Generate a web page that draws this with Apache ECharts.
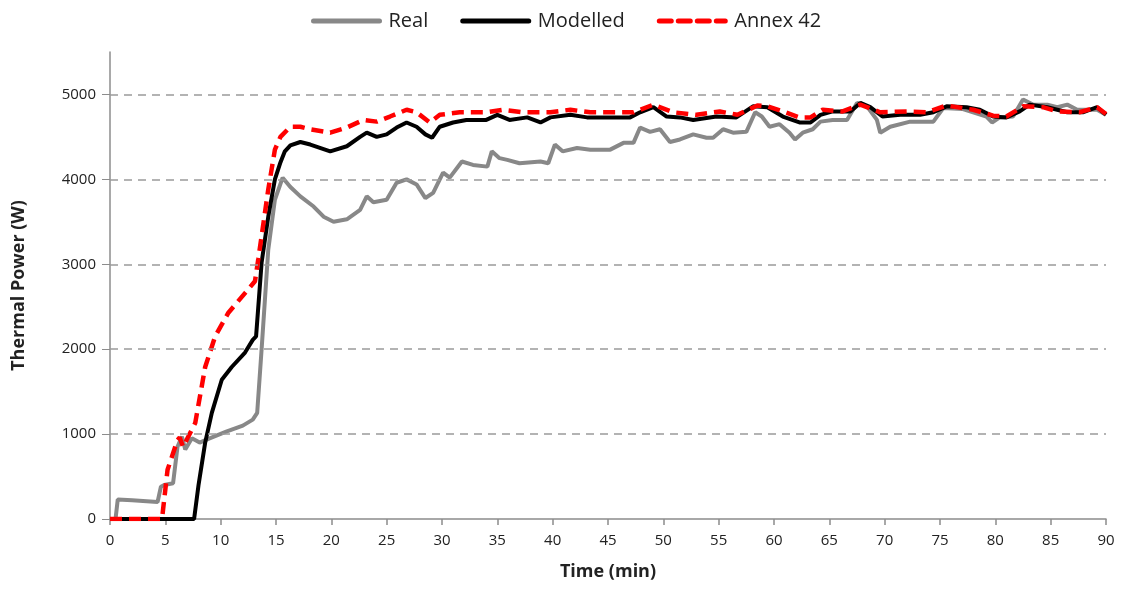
<!DOCTYPE html>
<html>
<head>
<meta charset="utf-8">
<script src="https://cdn.jsdelivr.net/npm/echarts@6/dist/echarts.min.js"></script>
<style>
html,body{margin:0;padding:0;background:#fff;}
#chart{width:1128px;height:599px;}
</style>
</head>
<body>
<div id="chart"></div>
<script>
const seriesNames = ['Real', 'Modelled', 'Annex 42'];
const xTicks = [0, 5, 10, 15, 20, 25, 30, 35, 40, 45, 50, 55, 60, 65, 70, 75, 80, 85, 90];
const yTicks = [0, 1000, 2000, 3000, 4000, 5000];
const gridValues = [1000, 2000, 3000, 4000, 5000];

const realTime = [0, 0.5, 0.7, 2, 4.3, 4.6, 4.9, 5.7, 6.1, 6.5,
  6.8, 7.4, 8.1, 9.0, 10.5, 12.0, 12.9, 13.3, 13.7, 14.3,
  14.9, 15.6, 16.3, 17.2, 18.4, 19.3, 20.2, 21.4, 22.6, 23.2,
  23.8, 25.0, 25.9, 26.8, 27.7, 28.5, 29.2, 30.1, 30.7, 31.8,
  32.8, 34.1, 34.5, 35.2, 35.9, 37, 38.9, 39.6, 40.2, 40.9,
  42.2, 43.4, 45.2, 46.4, 47.3, 47.9, 48.8, 49.7, 50.6, 51.5,
  52.7, 53.9, 54.5, 55.4, 56.3, 57.5, 58.3, 58.9, 59.6, 60.5,
  61.4, 61.9, 62.6, 63.5, 64.2, 65.3, 66.6, 67.5, 68.4, 69.3,
  69.6, 70.5, 72.3, 74.4, 75.3, 77, 79.2, 79.7, 80.4, 81.6,
  82.5, 83.4, 84.7, 85.6, 86.5, 87.4, 89.2, 90];
const realPower = [0, 0, 230, 220, 200, 380, 400, 420, 850, 970,
  820, 950, 900, 950, 1030, 1100, 1170, 1250, 2000, 3170,
  3760, 4020, 3910, 3800, 3680, 3560, 3500, 3530, 3640, 3800,
  3730, 3760, 3960, 4000, 3940, 3780, 3840, 4080, 4020, 4210,
  4170, 4150, 4330, 4250, 4230, 4190, 4210, 4190, 4410, 4330,
  4370, 4350, 4350, 4430, 4430, 4610, 4560, 4590, 4440, 4470,
  4530, 4490, 4490, 4590, 4550, 4560, 4790, 4740, 4620, 4650,
  4550, 4470, 4550, 4590, 4680, 4700, 4700, 4900, 4860, 4700,
  4550, 4620, 4680, 4680, 4840, 4830, 4740, 4670, 4730, 4740,
  4940, 4880, 4880, 4850, 4880, 4820, 4820, 4760];

const modTime = [0, 7.6, 8.0, 8.6, 9.2, 10.1, 11.0, 12.2, 12.9, 13.2,
  13.7, 14.3, 14.9, 15.4, 15.8, 16.3, 17.2, 18.1, 19.9, 21.4,
  22.6, 23.2, 24.1, 25.0, 25.9, 26.8, 27.7, 28.5, 29.1, 29.8,
  31.0, 32.2, 34.0, 35.0, 36.1, 37.7, 38.9, 39.8, 41.6, 43.1,
  45.8, 47.0, 47.9, 49.1, 50.3, 51.5, 52.7, 54.8, 56.6, 58.1,
  59.4, 60.8, 62.3, 63.3, 64.2, 65.3, 66.9, 67.8, 68.7, 69.8,
  71.4, 73.2, 74.4, 75.6, 77.4, 78.6, 79.8, 81.0, 82.2, 83.1,
  84.7, 86.5, 87.9, 89.2, 90];
const modPower = [0, 0, 400, 900, 1250, 1640, 1790, 1960, 2110, 2150,
  3020, 3560, 4000, 4200, 4330, 4400, 4440, 4410, 4330, 4390,
  4500, 4550, 4500, 4530, 4610, 4670, 4620, 4530, 4490, 4620,
  4670, 4700, 4700, 4760, 4700, 4730, 4670, 4730, 4760, 4730,
  4730, 4730, 4790, 4850, 4740, 4730, 4700, 4740, 4730, 4860,
  4850, 4740, 4670, 4670, 4760, 4800, 4800, 4900, 4850, 4740,
  4760, 4760, 4790, 4860, 4850, 4820, 4740, 4730, 4800, 4880,
  4850, 4790, 4790, 4850, 4760];

const annexTime = [0, 4.7, 5.2, 6.1, 6.3, 6.6, 7.7, 8.6, 9.5, 10.7,
  12.2, 13.1, 13.4, 14.3, 14.9, 15.4, 16.3, 17.2, 18.1, 19.9,
  21.4, 22.9, 24.1, 25.3, 26.8, 27.7, 28.9, 29.8, 31.6, 34.0,
  35.5, 37.3, 39.8, 41.6, 43.4, 47.3, 49.1, 50.9, 53.0, 55.1,
  56.7, 58.5, 59.4, 60.8, 62.3, 63.3, 64.4, 66.2, 67.8, 69.6,
  72.0, 73.8, 75.6, 78.0, 79.8, 81.0, 82.5, 84.3, 85.6, 87.6,
  89.2, 90];
const annexPower = [0, 0, 580, 930, 960, 850, 1130, 1790, 2150, 2430,
  2660, 2800, 3060, 3880, 4350, 4500, 4620, 4620, 4590, 4550,
  4610, 4700, 4680, 4740, 4820, 4790, 4670, 4760, 4790, 4790,
  4820, 4790, 4790, 4820, 4790, 4790, 4880, 4790, 4760, 4800,
  4760, 4870, 4860, 4800, 4730, 4730, 4820, 4800, 4880, 4790,
  4800, 4790, 4870, 4820, 4750, 4740, 4860, 4850, 4800, 4790,
  4850, 4770];

function zip(t, v) { return t.map((x, i) => [x, v[i]]); }

const FONT = 'Open Sans';
const chart = echarts.init(document.getElementById('chart'), null, {renderer: 'canvas'});
chart.setOption({
  backgroundColor: '#ffffff',
  animation: false,
  textStyle: {fontFamily: FONT},
  legend: {
    top: 6,
    left: 306,
    itemWidth: 66,
    itemHeight: 14,
    itemGap: 32,
    textStyle: {fontSize: 20, color: '#222', fontFamily: FONT, padding: [0, 0, 0, 4]},
    itemStyle: {opacity: 0},
    lineStyle: {width: 5, cap: 'round'},
    data: seriesNames
  },
  grid: {left: 110, right: 22, top: 52, bottom: 80, containLabel: false},
  xAxis: {
    type: 'value',
    min: xTicks[0],
    max: xTicks[xTicks.length - 1],
    interval: 5,
    name: 'Time (min)',
    nameLocation: 'middle',
    nameGap: 44,
    nameTextStyle: {fontSize: 18, fontWeight: 'bold', color: '#222', fontFamily: FONT},
    axisLine: {show: true, lineStyle: {color: '#8c8c8c', width: 1.5}},
    axisTick: {show: true, length: 6, lineStyle: {color: '#8c8c8c', width: 1.5}},
    axisLabel: {fontSize: 15, color: '#222', margin: 14, fontFamily: FONT},
    splitLine: {show: false}
  },
  yAxis: {
    type: 'value',
    min: yTicks[0],
    max: 5500,
    interval: 1000,
    name: 'Thermal Power (W)',
    nameLocation: 'middle',
    nameGap: 82,
    nameTextStyle: {fontSize: 18, fontWeight: 'bold', color: '#222', fontFamily: FONT},
    axisLine: {show: true, lineStyle: {color: '#8c8c8c', width: 1.5}},
    axisTick: {show: true, length: 8, lineStyle: {color: '#8c8c8c', width: 1}},
    axisLabel: {fontSize: 15, color: '#222', margin: 14, showMaxLabel: false, fontFamily: FONT,
      formatter: v => String(v)},
    splitLine: {show: false}
  },
  series: [
    {
      name: seriesNames[0],
      type: 'line',
      data: zip(realTime, realPower),
      symbol: 'none',
      lineStyle: {color: '#888888', width: 4},
      itemStyle: {color: '#888888'},
      markLine: {
        silent: true,
        symbol: ['none', 'none'],
        label: {show: false},
        lineStyle: {color: '#9a9a9a', width: 1.5, type: [8, 6]},
        data: gridValues.map(v => ({yAxis: v}))
      },
      z: 2
    },
    {
      name: seriesNames[1],
      type: 'line',
      data: zip(modTime, modPower),
      symbol: 'none',
      lineStyle: {color: '#000000', width: 4},
      itemStyle: {color: '#000000'},
      z: 3
    },
    {
      name: seriesNames[2],
      type: 'line',
      data: zip(annexTime, annexPower),
      symbol: 'none',
      lineStyle: {color: '#ff0000', width: 4.5, type: [12, 7]},
      itemStyle: {color: '#ff0000'},
      z: 4
    }
  ]
});
</script>
</body>
</html>
